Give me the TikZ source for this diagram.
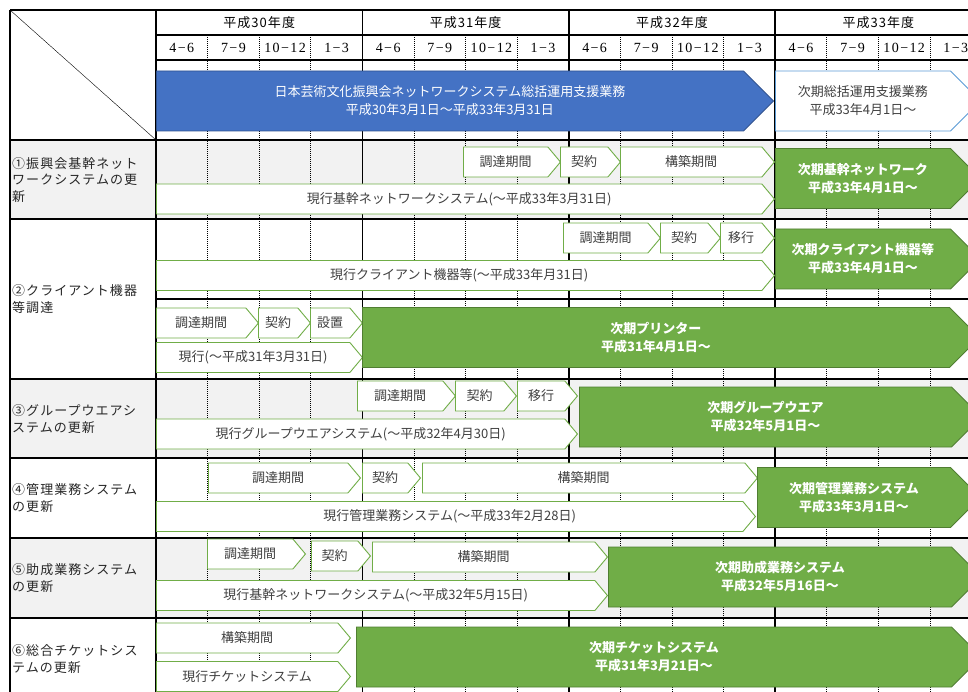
\documentclass[tikz,border=0pt]{standalone}
\usepackage{fontspec}
\setmainfont{Liberation Serif}
\newfontfamily\jp{Noto Sans CJK JP}
\newfontfamily\jpwide{Noto Sans CJK JP}[LetterSpace=8]
\newfontfamily\qfont{Liberation Serif}[LetterSpace=10]
\usetikzlibrary{shapes.symbols}

\definecolor{bandblue}{HTML}{4472C4}
\definecolor{bandedge}{HTML}{2F528F}
\definecolor{nextedge}{HTML}{5B9BD5}
\definecolor{taskgreen}{HTML}{70AD47}
\definecolor{nextgreenedge}{HTML}{507E32}
\definecolor{rowgray}{HTML}{F2F2F2}
\definecolor{tasktext}{HTML}{404040}

\tikzset{
  qline/.style={line width=0.8pt, dash pattern=on 1pt off 1pt},
  thick rule/.style={line width=1.6pt},
  thin rule/.style={line width=1.2pt},
  headtext/.style={font=\jpwide\fontsize{13}{16}\selectfont},
  qtext/.style={font=\qfont\fontsize{14}{16}\selectfont},
  itemtext/.style={anchor=west, align=left, inner sep=0pt, text=black!85,
    font=\jpwide\fontsize{13}{16.5}\selectfont},
  task/.style={signal, signal to=east, signal pointer angle=100, draw=taskgreen,
    line width=0.9pt, fill=white, text=tasktext, inner sep=0pt, minimum height=30pt,
    anchor=west, font=\jp\fontsize{13}{18}\selectfont},
  nextsys/.style={signal, signal to=east, signal pointer angle=90, draw=nextgreenedge,
    line width=0.9pt, fill=taskgreen, text=white, align=center, inner sep=0pt,
    minimum height=60pt, anchor=west, font=\jp\bfseries\fontsize{13}{18}\selectfont},
  bandbar/.style={nextsys, draw=bandedge, fill=bandblue, font=\jp\fontsize{13}{18}\selectfont},
}

\begin{document}
\begin{tikzpicture}[x=1pt, y=-1pt]
\useasboundingbox (0,0) rectangle (968,692);
\fill[rowgray] (10,140) rectangle (968,219);
\fill[rowgray] (10,379) rectangle (968,458);
\fill[rowgray] (10,538) rectangle (968,618);
\foreach \i in {1,2,3,5,6,7,9,10,11,13,14,15}
  \draw[qline] ({156+51.6*\i},35) -- ({156+51.6*\i},700);
\foreach \i in {0,4,8,12}
  \draw[thick rule] ({156+51.6*\i},10) -- ({156+51.6*\i},700);
\draw[thick rule] (10,10) -- (10,700);
\draw[thick rule] (10,10) -- (968,10);
\draw[thin rule] (156,35) -- (968,35);
\draw[thin rule] (156,60) -- (968,60);
\foreach \y in {140,219,379,458,538,618}
  \draw[thick rule] (10,\y) -- (968,\y);
\draw[thick rule] (156,299) -- (968,299);
\draw (10,10) -- (156,140);

\foreach \yr [count=\k from 0] in {30,31,32,33}
  \node (year\yr) [headtext] at ({156+51.6*(4*\k+2)},23) {平成\yr 年度};
\foreach \k in {0,...,3}
  \foreach \q [count=\j from 0] in {4−6,7−9,10−12,1−3}
    \node (q\k\j) [qtext] at ({156+51.6*(4*\k+\j+0.5)},48) {\q};

\node (item1) [itemtext] at (12,180) {①振興会基幹ネット\\ワークシステムの更\\新};
\node (item2) [itemtext] at (12,299) {②クライアント機器\\等調達};
\node (item3) [itemtext] at (12,419) {③グループウエアシ\\ステムの更新};
\node (item4) [itemtext] at (12,498) {④管理業務システム\\の更新};
\node (item5) [itemtext] at (12,578) {⑤助成業務システム\\の更新};
\node (item6) [itemtext] at (12,659) {⑥総合チケットシス\\テムの更新};

\node (band) [bandbar, minimum width=617pt] at (156,101)
  {日本芸術文化振興会ネットワークシステム総括運用支援業務\\平成30年3月1日〜平成33年3月31日};
\node (bandnext) [bandbar, draw=nextedge, fill=white, text=tasktext, minimum width=205pt] at (775,101)
  {次期総括運用支援業務\\平成33年4月1日〜};

\node (r1cho) [task, minimum width=97pt] at (463,162) {調達期間};
\node (r1kei) [task, minimum width=60pt] at (560,162) {契約};
\node (r1kou) [task, minimum width=154pt] at (620,162) {構築期間};
\node (r1cur) [task, minimum width=618pt] at (156,199) {現行基幹ネットワークシステム(〜平成33年3月31日)};
\node (r1next) [nextsys, minimum width=205pt] at (775,178.5) {次期基幹ネットワーク\\平成33年4月1日〜};

\node (r2cho) [task, minimum width=97pt] at (563,238) {調達期間};
\node (r2kei) [task, minimum width=60pt] at (660,238) {契約};
\node (r2ikou) [task, minimum width=54pt] at (720,238) {移行};
\node (r2cur) [task, minimum width=618pt] at (156,275.5) {現行クライアント機器等(〜平成33年月31日)};
\node (r2next) [nextsys, minimum width=205pt] at (775,259) {次期クライアント機器等\\平成33年4月1日〜};

\node (r2pcho) [task, minimum width=102pt] at (156,323) {調達期間};
\node (r2pkei) [task, minimum width=52pt] at (258,323) {契約};
\node (r2pset) [task, minimum width=52pt] at (310,323) {設置};
\node (r2pcur) [task, minimum width=206pt] at (156,357.5) {現行(〜平成31年3月31日)};
\node (r2pnext) [nextsys, minimum width=617pt] at (362,337.5) {次期プリンター\\平成31年4月1日〜};

\node (r3cho) [task, minimum width=98pt] at (357,396) {調達期間};
\node (r3kei) [task, minimum width=61pt] at (455,396) {契約};
\node (r3ikou) [task, minimum width=60pt] at (517,396) {移行};
\node (r3cur) [task, minimum width=421pt] at (156,434) {現行グループウエアシステム(〜平成32年4月30日)};
\node (r3next) [nextsys, minimum width=402pt] at (579,417) {次期グループウエア\\平成32年5月1日〜};

\node (r4cho) [task, minimum width=152pt] at (208,478) {調達期間};
\node (r4kei) [task, minimum width=58pt] at (362,478) {契約};
\node (r4kou) [task, minimum width=335pt] at (422,478) {構築期間};
\node (r4cur) [task, minimum width=599pt] at (156,516.5) {現行管理業務システム(〜平成33年2月28日)};
\node (r4next) [nextsys, minimum width=223pt] at (757,497.5) {次期管理業務システム\\平成33年3月1日〜};

\node (r5cho) [task, minimum width=98pt] at (207,554) {調達期間};
\node (r5kei) [task, minimum width=59pt] at (311,556) {契約};
\node (r5kou) [task, minimum width=235pt] at (372,557) {構築期間};
\node (r5cur) [task, minimum width=451pt] at (156,595.5) {現行基幹ネットワークシステム(〜平成32年5月15日)};
\node (r5next) [nextsys, minimum width=373pt] at (608,577) {次期助成業務システム\\平成32年5月16日〜};

\node (r6kou) [task, minimum width=194pt] at (156,638) {構築期間};
\node (r6cur) [task, minimum width=194pt] at (156,676.5) {現行チケットシステム};
\node (r6next) [nextsys, minimum width=625pt] at (356,657) {次期チケットシステム\\平成31年3月21日〜};
\end{tikzpicture}
\end{document}
